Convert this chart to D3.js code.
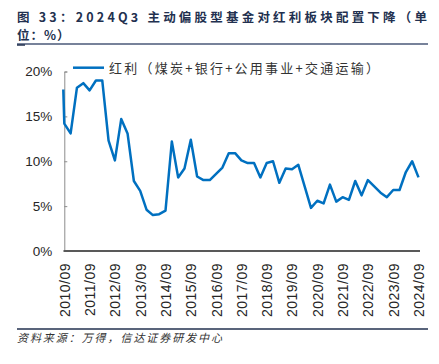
<!DOCTYPE html>
<html>
<head>
<meta charset="utf-8">
<script src="https://cdn.jsdelivr.net/npm/d3@7"></script>
<style>
  body { margin: 0; background: #fff; }
  svg { display: block; }
</style>
</head>
<body>
<div id="chart"></div>
<script>
const width = 439;
const height = 364;

const titleLine1 = '图 33：2024Q3 主动偏股型基金对红利板块配置下降（单';
const titleLine2 = '位：%）';
const seriesName = '红利（煤炭+银行+公用事业+交通运输）';
const sourceText = '资料来源：万得，信达证券研发中心';

// the line opens with a near vertical drop on the 2010/09 edge
const startValue = 18.0;
// quarterly share, %, 2010/09 .. 2024/09
const values = [
  14.2, 13.1, 18.2, 18.7, 17.9, 19.0, 19.0, 12.3, 10.1, 14.7,
  13.1, 7.8, 6.7, 4.6, 4.0, 4.1, 4.5, 12.2, 8.2, 9.2,
  12.4, 8.3, 7.9, 7.9, 8.6, 9.3, 10.9, 10.9, 10.1, 9.8,
  9.8, 8.2, 9.8, 10.0, 7.6, 9.2, 9.1, 9.6, 7.2, 4.8,
  5.6, 5.3, 7.4, 5.5, 6.0, 5.7, 7.8, 6.2, 7.9, 7.2,
  6.5, 6.0, 6.8, 6.8, 8.8, 10.0, 8.2
];
const yTicks = [0, 5, 10, 15, 20];
const xTickLabels = ['2010/09', '2011/09', '2012/09', '2013/09', '2014/09', '2015/09', '2016/09',
  '2017/09', '2018/09', '2019/09', '2020/09', '2021/09', '2022/09', '2023/09', '2024/09'];

const fmt = d3.timeFormat('%Y/%m');
const quarters = d3.timeMonth.range(new Date(2010, 8, 1), new Date(2024, 9, 1), 3).map(fmt);

const navy = '#22304f';
const blue = '#0070c0';

const svg = d3.select('#chart')
  .append('svg')
  .attr('width', width)
  .attr('height', height);

// title, wrapped by hand like the original
svg.append('text')
  .attr('x', 17)
  .attr('y', 21.5)
  .attr('textLength', 410)
  .attr('lengthAdjust', 'spacing')
  .style('font-family', '"Noto Sans CJK SC", sans-serif')
  .style('font-weight', 'bold')
  .style('font-size', '12.5px')
  .style('fill', navy)
  .text(titleLine1);

svg.append('text')
  .attr('x', 17)
  .attr('y', 40)
  .style('letter-spacing', '1px')
  .style('font-family', '"Noto Sans CJK SC", sans-serif')
  .style('font-weight', 'bold')
  .style('font-size', '12.5px')
  .style('fill', navy)
  .text(titleLine2);

svg.append('line')
  .attr('x1', 17).attr('x2', 428)
  .attr('y1', 44).attr('y2', 44)
  .style('stroke', '#4a5878')
  .style('stroke-width', 1.5);

svg.append('line')
  .attr('x1', 17).attr('x2', 25)
  .attr('y1', 45).attr('y2', 45)
  .style('stroke', navy)
  .style('stroke-width', 1.5);

// scales
const x = d3.scalePoint()
  .domain(quarters)
  .range([64.3, 418.5]);

const y = d3.scaleLinear()
  .domain([0, 20])
  .range([251, 71.5]);

// y axis
const yAxis = svg.append('g')
  .attr('transform', 'translate(64.3,0)')
  .call(d3.axisLeft(y)
    .tickValues(yTicks)
    .tickFormat(d => d + '%')
    .tickSize(-3)
    .tickPadding(12));

yAxis.select('.domain').style('stroke', '#8c8c8c');
yAxis.selectAll('.tick line').style('stroke', '#8c8c8c');
yAxis.selectAll('.tick text')
  .style('font-family', '"Liberation Sans", Arial, sans-serif')
  .style('font-size', '13.5px')
  .style('fill', '#262626');

// x axis
const xAxis = svg.append('g')
  .attr('transform', 'translate(0,251)')
  .call(d3.axisBottom(x)
    .tickValues(xTickLabels)
    .tickSize(0)
    .tickPadding(0));

xAxis.select('.domain')
  .attr('d', 'M63.5,0H420')
  .style('stroke', '#595959')
  .style('stroke-width', 2);

xAxis.selectAll('.tick text')
  .attr('transform', 'rotate(-90)')
  .attr('x', -12)
  .attr('y', 0)
  .attr('dy', '0.35em')
  .style('text-anchor', 'end')
  .style('letter-spacing', '0.5px')
  .style('font-family', '"Liberation Sans", Arial, sans-serif')
  .style('font-size', '14px')
  .style('fill', '#262626');

// series line
const points = [{q: quarters[0], v: startValue}]
  .concat(quarters.map((q, i) => ({q: q, v: values[i]})));

points[0].dx = -1;

const line = d3.line()
  .x(d => x(d.q) + (d.dx || 0))
  .y(d => y(d.v));

svg.append('path')
  .datum(points)
  .attr('d', line)
  .style('fill', 'none')
  .style('stroke', blue)
  .style('stroke-width', 2.5)
  .style('stroke-linejoin', 'round');

// legend
svg.append('line')
  .attr('x1', 73).attr('x2', 104)
  .attr('y1', 67.7).attr('y2', 67.7)
  .style('stroke', blue)
  .style('stroke-width', 2.5);

svg.append('text')
  .attr('x', 109)
  .attr('y', 68)
  .attr('dy', '0.35em')
  .attr('textLength', 270)
  .attr('lengthAdjust', 'spacing')
  .style('font-family', '"Noto Sans CJK SC", sans-serif')
  .style('font-size', '13px')
  .style('fill', '#333')
  .text(seriesName);

// footer
svg.append('line')
  .attr('x1', 17).attr('x2', 428)
  .attr('y1', 329).attr('y2', 329)
  .style('stroke', navy)
  .style('stroke-width', 1.5);

svg.append('text')
  .attr('x', 17)
  .attr('y', 338)
  .attr('dy', '0.35em')
  .attr('textLength', 205)
  .attr('lengthAdjust', 'spacing')
  .style('font-family', '"Noto Sans CJK SC", sans-serif')
  .style('font-style', 'italic')
  .style('font-size', '11px')
  .style('fill', '#333')
  .text(sourceText);
</script>
</body>
</html>
